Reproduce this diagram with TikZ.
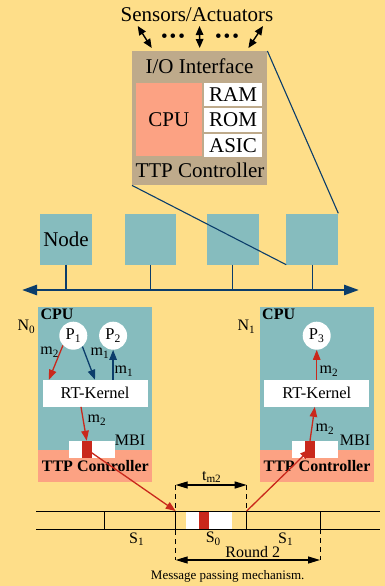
\documentclass[tikz,border=0pt]{standalone}
\usepackage{fontspec}
\setmainfont{Liberation Serif}
\usepackage{tikz}
\usetikzlibrary{arrows.meta,positioning,calc}
\definecolor{ttpbg}{HTML}{FEDE89}
\definecolor{ttpteal}{HTML}{86BCBE}
\definecolor{ttpsalmon}{HTML}{FCA283}
\definecolor{ttptan}{HTML}{BEAA8B}
\definecolor{ttpblue}{HTML}{0B3D6B}
\definecolor{ttpred}{HTML}{C9281C}
\tikzstyle{netnode} = [rectangle, fill=ttpteal, minimum width=51.7, minimum height=51, inner sep=0pt, font=\fontsize{21}{23}\selectfont]
\tikzstyle{memblock} = [rectangle, fill=white, minimum width=57.7, minimum height=23.3, inner sep=0pt, font=\fontsize{21}{23}\selectfont]
\tikzstyle{hostbox} = [rectangle, fill=ttpteal, minimum width=114, minimum height=143.3, inner sep=0pt, outer sep=0pt]
\tikzstyle{ctrlbar} = [rectangle, fill=ttpsalmon, minimum width=114, minimum height=31.7, inner sep=0pt, outer sep=0pt, font=\fontsize{16}{18}\selectfont\bfseries]
\tikzstyle{proc} = [circle, fill=white, minimum size=28, inner sep=0pt, font=\fontsize{16.5}{18}\selectfont]
\tikzstyle{kernel} = [rectangle, fill=white, minimum width=105, minimum height=26.7, inner sep=0pt, font=\fontsize{16.5}{18}\selectfont]
\tikzstyle{mbibox} = [rectangle, fill=white, minimum width=46, minimum height=16.7, inner sep=0pt]
\tikzstyle{msgslot} = [rectangle, fill=ttpred, minimum width=10, minimum height=16.7, inner sep=0pt]
\tikzstyle{lbl} = [inner sep=0pt, font=\fontsize{16}{18}\selectfont]
\tikzstyle{biglbl} = [inner sep=0pt, font=\fontsize{21}{23}\selectfont]
\tikzstyle{cpulbl} = [inner sep=2pt, anchor=north west, font=\fontsize{16}{18}\selectfont\bfseries]
\tikzstyle{redarrow} = [-{Triangle[length=10pt,width=7.5pt]}, line width=1.3pt, ttpred]
\tikzstyle{bluearrow} = [-{Triangle[length=10pt,width=7.5pt]}, line width=1.3pt, ttpblue]
\tikzstyle{sensarrow} = [{Triangle[length=9pt,width=7.5pt]}-{Triangle[length=9pt,width=7.5pt]}, line width=1.4pt]
\tikzstyle{dimarrow} = [{Triangle[length=12pt,width=7pt]}-{Triangle[length=12pt,width=7pt]}, line width=1.2pt]
\tikzstyle{busline} = [{Triangle[length=15pt,width=10pt]}-{Triangle[length=15pt,width=10pt]}, line width=2.6pt, ttpblue]

\begin{document}
\begin{tikzpicture}[x=1pt,y=-1pt]
\fill[ttpbg] (0,0) rectangle (385,586);
\useasboundingbox (0,0) rectangle (385,586);

% TTP controller in detail
\node[biglbl] (sens) at (197,15) {Sensors/Actuators};
\node[rectangle, fill=ttptan, minimum width=135, minimum height=134, inner sep=0pt, anchor=north west] (ttp) at (132,51) {};
\node[biglbl] (io) at (199.5,66) {I/O Interface};
\node[rectangle, fill=ttpsalmon, minimum width=66, minimum height=73.3, inner sep=0pt, anchor=north west, font=\fontsize{21}{23}\selectfont] (cpu) at (135.7,82.7) {CPU};
\node[memblock, anchor=north west] (ram) at (204,82.7) {RAM};
\node[memblock, below=1.7pt of ram] (rom) {ROM};
\node[memblock, below=2pt of rom] (asic) {ASIC};
\node[biglbl] (ttplbl) at (200,170) {TTP Controller};

\coordinate (sa1) at (137.7,26);
\coordinate (sa2) at (199.5,26);
\coordinate (sa3) at (263,26);
\draw[sensarrow] (sa1) -- ($(ttp.north west)+(19.7,-3)$);
\draw[sensarrow] (sa2) -- ($(ttp.north)+(0,-3)$);
\draw[sensarrow] (sa3) -- ($(ttp.north east)+(-19,-3)$);
\node[lbl, font=\fontsize{19}{20}\selectfont] (dotsL) at (173,38) {\textbullet\hspace{2pt}\textbullet\hspace{2pt}\textbullet};
\node[lbl, font=\fontsize{19}{20}\selectfont] (dotsR) at (227,38) {\textbullet\hspace{2pt}\textbullet\hspace{2pt}\textbullet};

% cluster and bus
\node[netnode, anchor=north west] (n1) at (40,213.3) {Node};
\node[netnode, right=32.3pt of n1] (n2) {};
\node[netnode, right=30.3pt of n2] (n3) {};
\node[netnode, right=27.3pt of n3] (n4) {};
\coordinate (busW) at (22,290);
\coordinate (busE) at (359,290);
\draw[busline] (busW) -- (busE);
\foreach \n in {n1,n2,n3,n4}
  \draw[ttpblue, line width=1.2pt] (\n.south) -- (\n.south |- busW);
\draw[ttpblue, line width=1.1pt] (ttp.north east) -- (n4.north east);
\draw[ttpblue, line width=1.1pt] (ttp.south west) -- (n4.south west);

% node N0
\node[hostbox, anchor=north west] (cpu0) at (38.3,306.7) {};
\node[ctrlbar, below=0pt of cpu0] (ttp0) {TTP Controller};
\node[cpulbl] (cpu0lbl) at (cpu0.north west) {CPU};
\node[lbl] (n0lbl) at (26.5,327) {N\textsubscript{0}};
\node[proc] (p1) at (73.3,335.7) {P\textsubscript{1}};
\node[proc, right=11.4pt of p1] (p2) {P\textsubscript{2}};
\node[kernel] (k0) at (95,393.3) {RT-Kernel};
\node[mbibox] (mbi0) at (92,449.3) {};
\node[msgslot] (slot0) at (86.7,449.3) {};
\node[lbl] (mbi0lbl) at (130,440.7) {MBI};
\draw[redarrow] (p1.223) -- ($(k0.north west)+(6.6,0)$);
\draw[bluearrow] (p1.-50) -- (k0.north);
\draw[bluearrow] (k0.north -| p2.south) -- (p2.south);
\draw[redarrow] ($(k0.south)+(-14,0)$) -- (slot0.north);
\node[lbl] at (49.7,352) {m\textsubscript{2}};
\node[lbl] at (100,353) {m\textsubscript{1}};
\node[lbl] at (124,371) {m\textsubscript{1}};
\node[lbl] at (97,420) {m\textsubscript{2}};

% node N1
\node[hostbox, anchor=north west] (cpu1) at (260,306.7) {};
\node[ctrlbar, below=0pt of cpu1] (ttp1) {TTP Controller};
\node[cpulbl] (cpu1lbl) at (cpu1.north west) {CPU};
\node[lbl] (n1lbl) at (246.5,327) {N\textsubscript{1}};
\node[proc] (p3) at (316.7,335.7) {P\textsubscript{3}};
\node[kernel] (k1) at (316.8,393.3) {RT-Kernel};
\node[mbibox] (mbi1) at (314.7,449.3) {};
\node[msgslot] (slot1) at (310,449.3) {};
\node[lbl] (mbi1lbl) at (355,440.7) {MBI};
\draw[redarrow] (k1.north -| p3.south) -- (p3.south);
\draw[redarrow] (slot1.north) -- ($(k1.south)+(-2,0)$);
\node[lbl] at (329,371) {m\textsubscript{2}};
\node[lbl] at (325,429) {m\textsubscript{2}};

% TDMA rounds
\node[rectangle, fill=white, minimum width=46, minimum height=18.3, inner sep=0pt] (msg) at (208.7,520.2) {};
\node[msgslot, minimum height=18.3] (msgred) at (204,520.2) {};
\coordinate (s0W) at (175.7,511);
\coordinate (s0E) at (246.7,511);
\draw[line width=1pt] (36,511) -- (380,511);
\draw[line width=1pt] (36,529.3) -- (380,529.3);
\foreach \x in {104.3,175.7,246.7,320}
  \draw[line width=1pt] (\x,511) -- (\x,529.3);
\draw[line width=1pt, dash pattern=on 5pt off 4pt] (175.7,485) -- (175.7,560);
\draw[line width=1pt, dash pattern=on 5pt off 4pt] (246.7,485) -- (246.7,511);
\draw[line width=1pt, dash pattern=on 5pt off 4pt] (320,529.3) -- (320,560);
\draw[dimarrow] (175.7,485) -- (246.7,485);
\draw[dimarrow] (175.7,560) -- (320,560);
\node[lbl] at (211.7,477) {t\textsubscript{m2}};
\node[lbl] at (252.7,552) {Round 2};
\node[lbl] at (136.7,539) {S\textsubscript{1}};
\node[lbl] at (213.3,539) {S\textsubscript{0}};
\node[lbl] at (285.7,539) {S\textsubscript{1}};
\node[inner sep=0pt, font=\fontsize{13}{15}\selectfont] at (227.7,576) {Message passing mechanism.};

\draw[redarrow] (slot0.center) -- (s0W);
\draw[redarrow] (s0E) -- (slot1.center);
\end{tikzpicture}
\end{document}
